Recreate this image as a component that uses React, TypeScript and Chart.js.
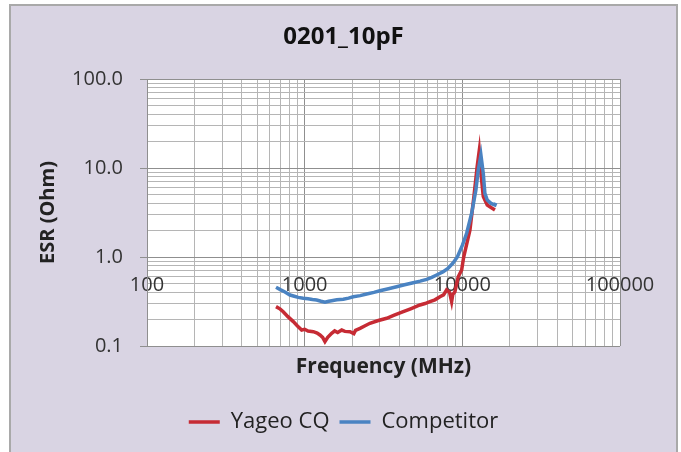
import React, { useEffect, useRef } from 'react';
import { Chart, registerables } from 'chart.js';

Chart.register(...registerables);

const chartTitle = '0201_10pF';
const xTitle = 'Frequency (MHz)';
const yTitle = 'ESR (Ohm)';
const seriesNames = ['Yageo CQ', 'Competitor'];

const xLabelValues = [100, 1000, 10000, 100000];
const xLabels = ['100', '1000', '10000', '100000'];
const yLabelValues = [0.1, 1, 10, 100];
const yLabels = ['0.1', '1.0', '10.0', '100.0'];

const yageoFreq = [658, 700, 731, 780, 847, 900, 957, 1000, 1050, 1135, 1200, 1250, 1300, 1345, 1400, 1483, 1550, 1620, 1717, 1800, 1937, 2050, 2100, 2244, 2400, 2594, 2900, 3311, 3700, 4220, 4700, 5383, 5800, 6231, 6700, 7211, 7600, 7946, 8300, 8551, 8700, 8974, 9420, 9900, 10200, 11170, 11840, 12420, 12800, 13120, 13580, 14390, 15200, 16100];
const yageoEsr = [0.277, 0.26, 0.243, 0.215, 0.188, 0.168, 0.151, 0.154, 0.147, 0.145, 0.14, 0.133, 0.125, 0.112, 0.125, 0.139, 0.148, 0.142, 0.151, 0.146, 0.145, 0.138, 0.15, 0.158, 0.168, 0.18, 0.192, 0.205, 0.222, 0.243, 0.262, 0.289, 0.3, 0.315, 0.33, 0.358, 0.375, 0.426, 0.4, 0.315, 0.38, 0.407, 0.6, 0.714, 1.0, 2.0, 4.77, 10.4, 15.6, 8.7, 4.77, 3.84, 3.6, 3.38];

const compFreq = [658, 700, 750, 807, 860, 910, 980, 1050, 1120, 1191, 1270, 1345, 1420, 1483, 1600, 1758, 1900, 2033, 2250, 2472, 2750, 3001, 3400, 3830, 4300, 4884, 5400, 5940, 6400, 6874, 7568, 8100, 8700, 9300, 10000, 10650, 11460, 12190, 12620, 13120, 13580, 13900, 14390, 15200, 16100, 16300];
const compEsr = [0.457, 0.43, 0.405, 0.374, 0.362, 0.352, 0.344, 0.34, 0.333, 0.329, 0.318, 0.31, 0.318, 0.323, 0.33, 0.335, 0.345, 0.358, 0.368, 0.384, 0.4, 0.418, 0.44, 0.464, 0.488, 0.514, 0.535, 0.561, 0.59, 0.628, 0.684, 0.745, 0.85, 1.0, 1.35, 1.85, 3.1, 5.66, 9.5, 14.0, 8.7, 5.2, 4.37, 4.0, 3.84, 4.05];

const isDecade = (v: number) => {
  const l = Math.log10(v);
  return Math.abs(l - Math.round(l)) < 1e-6;
};
const keepIntegerMultiples = (scale: any) => {
  scale.ticks = scale.ticks.filter((t: any) => {
    const e = Math.floor(Math.log10(t.value) + 1e-9);
    const m = t.value / Math.pow(10, e);
    return Math.abs(m - Math.round(m)) < 1e-6;
  });
};
const labelFor = (values: number[], labels: string[]) => (v: any) => {
  const n = Number(v);
  const i = values.findIndex((x) => Math.abs(x - n) / x < 1e-6);
  return i >= 0 ? labels[i] : '';
};

const MAJOR = '#8f8f8f';
const MINOR = '#b5b5b5';
const gridColor = (ctx: any) => (ctx.tick && isDecade(ctx.tick.value) ? MAJOR : MINOR);

const plotBg = {
  id: 'plotBg',
  beforeDraw(chart: any) {
    const { ctx, chartArea } = chart;
    ctx.save();
    ctx.fillStyle = '#ffffff';
    ctx.fillRect(chartArea.left, chartArea.top, chartArea.right - chartArea.left, chartArea.bottom - chartArea.top);
    ctx.restore();
  },
};

export default function App() {
  const ref = useRef<HTMLCanvasElement | null>(null);
  useEffect(() => {
    if (!ref.current) return;
    Chart.defaults.font.family = "'Open Sans', sans-serif";
    const chart = new Chart(ref.current, {
      type: 'line',
      data: {
        datasets: [
          {
            label: seriesNames[0],
            data: yageoFreq.map((f, i) => ({ x: f, y: yageoEsr[i] })),
            borderColor: '#c62b34',
            backgroundColor: '#c62b34',
            borderWidth: 3.5,
            pointRadius: 0,
            tension: 0,
            order: 1,
          },
          {
            label: seriesNames[1],
            data: compFreq.map((f, i) => ({ x: f, y: compEsr[i] })),
            borderColor: '#4a83c2',
            backgroundColor: '#4a83c2',
            borderWidth: 3.5,
            pointRadius: 0,
            tension: 0,
            order: 0,
          },
        ],
      },
      options: {
        animation: false,
        responsive: false,
        events: [],
        layout: { padding: { left: 10, right: 4, top: 8, bottom: 9 } },
        scales: {
          x: {
            type: 'logarithmic',
            min: 100,
            max: 100000,
            position: { y: 1 } as any,
            afterBuildTicks: keepIntegerMultiples,
            grid: { color: gridColor, drawTicks: false, lineWidth: 1 },
            border: { color: MAJOR, width: 1 },
            ticks: {
              autoSkip: false,
              maxRotation: 0,
              minRotation: 0,
              padding: 16,
              color: '#333333',
              font: { size: 20 },
              callback: labelFor(xLabelValues, xLabels),
            },
          },
          x2: {
            type: 'linear',
            axis: 'x',
            position: 'bottom',
            min: 0,
            max: 1,
            grid: { display: false },
            border: { display: false },
            ticks: { display: false },
            title: {
              display: true,
              text: xTitle,
              color: '#222222',
              font: { size: 21, weight: 'bold' },
              padding: { top: 0.4, bottom: 21.4 },
            },
          },
          y: {
            type: 'logarithmic',
            min: 0.1,
            max: 100,
            position: 'left',
            afterBuildTicks: keepIntegerMultiples,
            afterFit: (s: any) => {
              s.width = 137;
            },
            grid: {
              color: gridColor,
              tickColor: (ctx: any) => (ctx.tick && isDecade(ctx.tick.value) ? MAJOR : 'rgba(0,0,0,0)'),
              tickLength: 7,
            },
            border: { color: MAJOR },
            ticks: {
              autoSkip: false,
              padding: 17,
              color: '#333333',
              font: { size: 20 },
              callback: labelFor(yLabelValues, yLabels),
            },
            title: {
              display: true,
              text: yTitle,
              color: '#222222',
              font: { size: 20, weight: 'bold' },
              padding: { top: 26, bottom: 0 },
            },
          },
          y2: {
            type: 'linear',
            axis: 'y',
            position: 'right',
            min: 0,
            max: 1,
            grid: { display: false },
            border: { display: false },
            ticks: { display: false },
            afterFit: (s: any) => {
              s.width = 57;
            },
          },
        },
        plugins: {
          title: {
            display: true,
            text: chartTitle,
            color: '#111111',
            font: { size: 24, weight: 'bold' },
            padding: { top: 15, bottom: 27.2 },
          },
          legend: {
            position: 'bottom',
            labels: {
              usePointStyle: true,
              pointStyle: 'line',
              pointStyleWidth: 31,
              color: '#222222',
              font: { size: 22 },
              padding: 10,
              sort: (a: any, b: any) => a.datasetIndex - b.datasetIndex,
            },
          },
          tooltip: { enabled: false },
        },
      },
      plugins: [plotBg],
    } as any);
    return () => chart.destroy();
  }, []);

  return (
    <div style={{ position: 'fixed', left: 0, top: 0, width: 681, height: 452, background: '#ffffff', overflow: 'hidden' }}>
      <div
        style={{
          position: 'absolute',
          left: 9,
          top: 4,
          width: 669,
          height: 470,
          boxSizing: 'border-box',
          border: '2px solid #a9a9a9',
          background: '#d9d4e3',
        }}
      />
      <canvas ref={ref} width={681} height={452} style={{ position: 'absolute', left: 0, top: 0, width: 681, height: 452 }} />
    </div>
  );
}
